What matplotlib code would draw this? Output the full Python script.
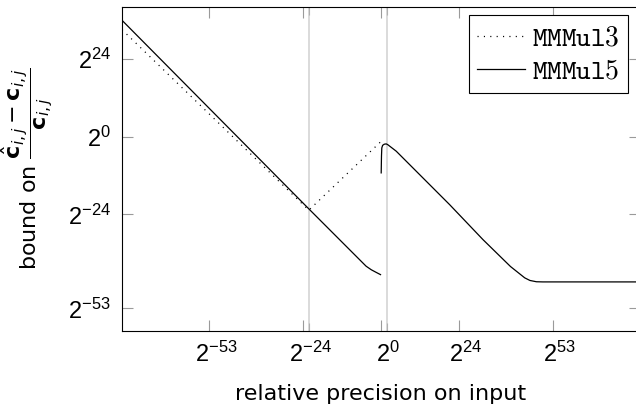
import matplotlib
matplotlib.use('Agg')
import matplotlib.pyplot as plt
import matplotlib.transforms as mtransforms
import numpy as np

plt.rcParams['mathtext.fontset'] = 'custom'
plt.rcParams['mathtext.rm'] = 'Liberation Sans'
plt.rcParams['mathtext.it'] = 'Liberation Sans:italic'
plt.rcParams['mathtext.bf'] = 'Liberation Sans:bold'

# data as log2 exponents
mm3_x = [-80, -22.3, 0.37]
mm3_y = [33.0, -22.7, -1.15]

mm5_x = [-80, -22.3, -4.6, -3.0, -1.5, -0.15, np.nan,
         0.06, 0.15, 0.25, 0.5, 1.0, 1.6, 2.1, 4.7, 21.2, 31.5, 40, 44.4, 46, 48, 50, 80]
mm5_y = [35.9, -22.3, -40.0, -41.1, -41.9, -42.6, np.nan,
         -11.2, -6.0, -3.5, -2.7, -2.35, -2.25, -2.5, -4.5, -21.0, -31.8, -40.1, -43.6, -44.4, -44.8, -44.85, -44.85]

xticks = [-53, -24, 0, 24, 53]
yticks = [24, 0, -24, -53]
vlines = [-22.1, 1.95]

fig = plt.figure(figsize=(6.36, 4.04), dpi=100)
ax = fig.add_axes([122/636, 73/404, 518/636, 324/404])

ax.set_xscale('log', base=2)
ax.set_yscale('log', base=2)
ax.set_xlim(2.0**-80, 2.0**80)
ax.set_ylim(2.0**-60, 2.0**40)

for v in vlines:
    ax.axvline(2.0**v, color='#d4d4d4', lw=1.2, zorder=1)

ax.plot(2.0**np.array(mm3_x), 2.0**np.array(mm3_y), color='black', lw=0.9,
        linestyle=(0, (0.9, 4.2)), label=r'$\mathtt{MMMul3}$', zorder=3)
ax.plot(2.0**np.array(mm5_x), 2.0**np.array(mm5_y), color='black', lw=0.9,
        label=r'$\mathtt{MMMul5}$', zorder=3)

ax.set_xticks([2.0**t for t in xticks])
ax.set_xticklabels(['$2^{%d}$' % t for t in xticks])
ax.set_yticks([2.0**t for t in yticks])
ax.set_yticklabels(['$2^{%d}$' % t for t in yticks])
ax.xaxis.set_minor_locator(matplotlib.ticker.FixedLocator([2.0**v for v in vlines]))
ax.yaxis.set_minor_locator(matplotlib.ticker.NullLocator())
ax.xaxis.set_minor_formatter(matplotlib.ticker.NullFormatter())

ax.tick_params(which='major', direction='in', length=8, width=0.8, color='#9a9a9a',
               top=True, right=True, labelsize=17, pad=8)
ax.tick_params(which='minor', direction='in', length=5.5, width=0.8, color='#b0b0b0',
               top=True, right=True)

# shift x tick labels slightly right like the original
offset = mtransforms.ScaledTranslation(7/100, 0, fig.dpi_scale_trans)
for lab in ax.get_xticklabels():
    lab.set_transform(lab.get_transform() + offset)

for s in ax.spines.values():
    s.set_linewidth(0.8)

ax.set_xlabel('relative precision on input', fontsize=16)
ax.xaxis.set_label_coords(0.5, -0.165)
ax.set_ylabel(r'bound on $\dfrac{\hat{\mathbf{c}}_{i,j}-\mathbf{c}_{i,j}}{\mathbf{c}_{i,j}}$',
              fontsize=16, math_fontfamily='dejavusans')
ax.yaxis.set_label_coords(-0.13, 0.5)

leg = ax.legend(loc='upper right', bbox_to_anchor=(0.9774, 0.9744), borderaxespad=0,
                prop=dict(size=20, math_fontfamily='cm'), fancybox=False,
                edgecolor='black', framealpha=1, handlelength=1.75, handletextpad=0.25,
                labelspacing=0.18, borderpad=0.3)
leg.get_frame().set_linewidth(0.8)

fig.savefig('out.png', dpi=100)
